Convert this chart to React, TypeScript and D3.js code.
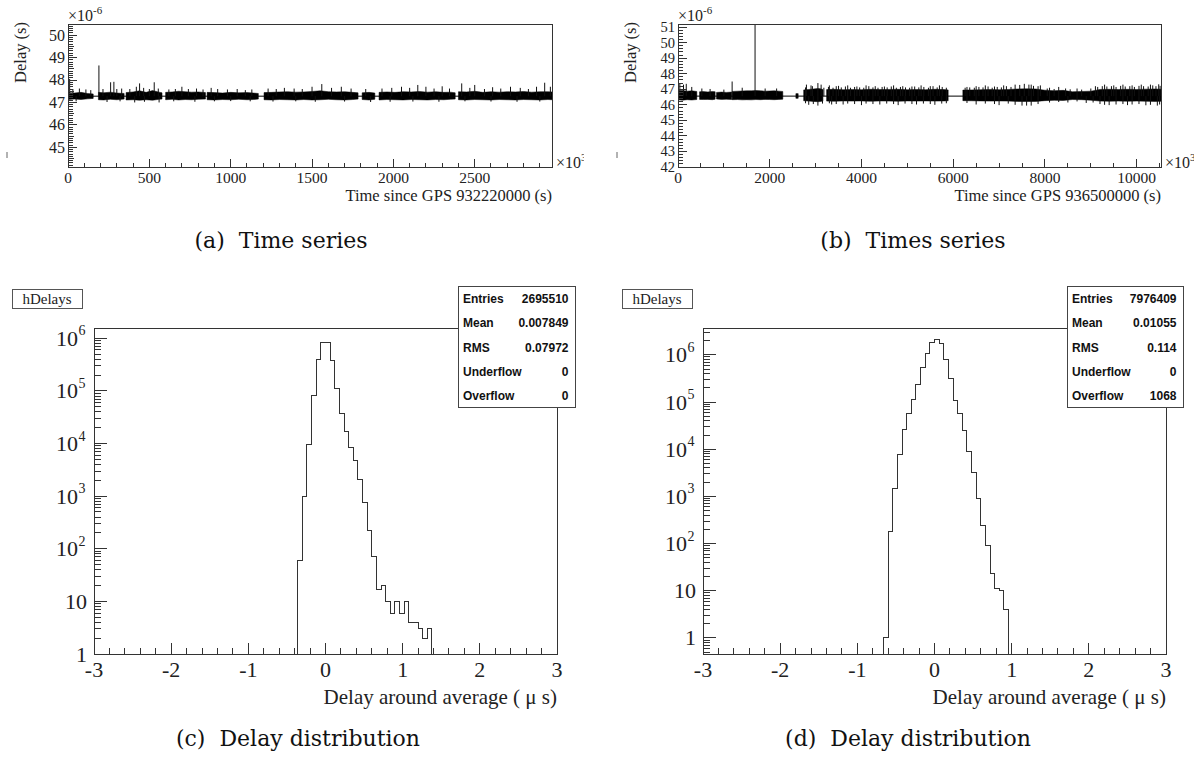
import React from "react";
import * as d3 from "d3";

const W = 1201;
const H = 763;
const SERIF = '"Liberation Serif", "Times New Roman", serif';
const CAPTION_FONT = '"DejaVu Serif", serif';
const SANS = '"Liberation Sans", Arial, sans-serif';
const INK = "#222";

// ---------------- Panel (a): time series, GPS 932220000 ----------------
const aBaseline = 47.28;
// each segment: [time, low, high] envelope of the dense noisy band
const aEnvelope: number[][][] = [
  [[0, 47.13, 47.44], [40, 47.15, 47.42], [80, 47.13, 47.45], [120, 47.16, 47.4], [155, 47.18, 47.38]],
  [[187, 47.12, 47.45], [220, 47.11, 47.43], [260, 47.14, 47.46], [300, 47.12, 47.42], [345, 47.15, 47.4]],
  [[357, 47.11, 47.44], [400, 47.12, 47.47], [440, 47.1, 47.52], [480, 47.12, 47.45], [520, 47.1, 47.53], [560, 47.14, 47.46], [578, 47.15, 47.43]],
  [[600, 47.12, 47.45], [640, 47.14, 47.47], [680, 47.11, 47.5], [720, 47.13, 47.48], [760, 47.12, 47.46], [800, 47.14, 47.47], [845, 47.15, 47.44]],
  [[855, 47.12, 47.45], [900, 47.11, 47.44], [950, 47.13, 47.42], [1000, 47.12, 47.45], [1050, 47.14, 47.43], [1100, 47.12, 47.44], [1140, 47.13, 47.42], [1170, 47.15, 47.4]],
  [[1205, 47.12, 47.44], [1250, 47.11, 47.45], [1300, 47.13, 47.47], [1350, 47.12, 47.48], [1400, 47.11, 47.46], [1450, 47.13, 47.47], [1500, 47.11, 47.49], [1550, 47.12, 47.52], [1600, 47.14, 47.48], [1650, 47.12, 47.47], [1700, 47.11, 47.48], [1750, 47.13, 47.45], [1783, 47.15, 47.43]],
  [[1808, 47.13, 47.43], [1850, 47.11, 47.45], [1886, 47.14, 47.42]],
  [[1912, 47.11, 47.45], [1960, 47.13, 47.47], [2010, 47.12, 47.45], [2060, 47.11, 47.48], [2110, 47.13, 47.47], [2160, 47.12, 47.49], [2210, 47.11, 47.46], [2260, 47.13, 47.48], [2310, 47.12, 47.45], [2350, 47.14, 47.46], [2380, 47.15, 47.43]],
  [[2400, 47.12, 47.48], [2450, 47.11, 47.47], [2500, 47.13, 47.5], [2550, 47.12, 47.45], [2600, 47.11, 47.48], [2650, 47.13, 47.46], [2700, 47.12, 47.48], [2750, 47.11, 47.47], [2800, 47.13, 47.49], [2850, 47.12, 47.46], [2900, 47.11, 47.48], [2950, 47.13, 47.48], [2975, 47.12, 47.47]],
];
const aSpikes: number[][] = [
  [10, 48.05], [30, 47.6], [70, 47.62], [110, 47.58], [140, 47.55], [190, 48.65], [215, 47.6], [262, 47.9], [282, 47.92], [300, 47.6],
  [330, 47.62], [380, 47.6], [420, 47.7], [440, 47.85], [465, 47.65], [500, 47.6], [530, 47.9], [555, 47.62], [620, 47.58], [660, 47.6],
  [700, 47.7], [740, 47.6], [790, 47.62], [830, 47.58], [880, 47.65], [920, 47.6], [980, 47.58], [1040, 47.6], [1090, 47.55], [1130, 47.58],
  [1230, 47.62], [1280, 47.6], [1330, 47.65], [1390, 47.62], [1440, 47.6], [1500, 47.7], [1560, 47.82], [1620, 47.65], [1680, 47.7], [1740, 47.62],
  [1830, 47.6], [1930, 47.62], [1990, 47.65], [2050, 47.7], [2100, 47.65], [2150, 47.78], [2200, 47.7], [2250, 47.62], [2300, 47.72], [2345, 47.62],
  [2420, 47.85], [2470, 47.65], [2500, 47.78], [2560, 47.6], [2610, 47.68], [2660, 47.62], [2720, 47.7], [2780, 47.65], [2830, 47.6], [2880, 47.7],
  [2930, 47.88], [2965, 47.7],
  [50, 47.05], [240, 47.02], [320, 47.05], [410, 47.0], [470, 47.03], [560, 47.0], [650, 47.05], [780, 47.03], [900, 47.05], [1000, 47.06],
  [1120, 47.05], [1260, 47.04], [1400, 47.05], [1520, 47.03], [1700, 47.04], [1860, 47.02], [1980, 47.03], [2120, 47.04], [2280, 47.03], [2440, 47.05],
  [2600, 47.04], [2760, 47.03], [2900, 47.04],
];
const aXTicks = [0, 500, 1000, 1500, 2000, 2500];
const aYTicks = [45, 46, 47, 48, 49, 50];

// ---------------- Panel (b): time series, GPS 936500000 ----------------
const bBaseline = 46.56;
const bEnvelope: number[][][] = [
  [[0, 46.32, 46.9], [100, 46.3, 46.92], [200, 46.33, 46.88], [300, 46.31, 46.9], [410, 46.34, 46.86]],
  [[470, 46.35, 46.84], [550, 46.34, 46.85], [650, 46.35, 46.83], [750, 46.33, 46.86], [810, 46.36, 46.84]],
  [[840, 46.37, 46.8], [950, 46.35, 46.82], [1050, 46.36, 46.8], [1170, 46.34, 46.82]],
  [[1180, 46.33, 46.86], [1300, 46.34, 46.88], [1400, 46.32, 46.89], [1500, 46.33, 46.9], [1600, 46.32, 46.9], [1700, 46.34, 46.92], [1800, 46.33, 46.9], [1900, 46.35, 46.88], [2000, 46.34, 46.89], [2100, 46.33, 46.9], [2200, 46.35, 46.88], [2285, 46.36, 46.86]],
  [[2570, 46.42, 46.72], [2620, 46.42, 46.72]],
  [[2740, 46.26, 46.96], [2850, 46.24, 46.99], [2950, 46.22, 47.02], [3050, 46.2, 47.05], [3100, 46.21, 47.04], [3160, 46.24, 46.98]],
  [[3240, 46.24, 46.98], [3400, 46.23, 47.0], [3600, 46.25, 46.97], [3800, 46.24, 46.99], [4000, 46.25, 46.97], [4200, 46.23, 47.0], [4400, 46.25, 46.98], [4600, 46.24, 46.99], [4800, 46.23, 47.0], [5000, 46.25, 46.97], [5200, 46.24, 46.99], [5400, 46.25, 46.97], [5600, 46.24, 47.0], [5800, 46.25, 46.98], [5890, 46.26, 46.96]],
  [[6210, 46.27, 46.95], [6400, 46.26, 46.96], [6600, 46.25, 46.97], [6800, 46.24, 46.99], [7000, 46.25, 46.97], [7200, 46.24, 46.99], [7400, 46.22, 47.02], [7600, 46.21, 47.03], [7800, 46.22, 47.02], [8000, 46.27, 46.94], [8200, 46.29, 46.91], [8400, 46.28, 46.93], [8600, 46.34, 46.84], [8800, 46.33, 46.86], [9000, 46.3, 46.88], [9200, 46.24, 46.99], [9400, 46.23, 47.0], [9600, 46.24, 46.99], [9800, 46.23, 47.0], [10000, 46.24, 46.99], [10200, 46.23, 47.01], [10400, 46.22, 47.02], [10530, 46.23, 47.0]],
];
const bSpikes: number[][] = [
  [40, 47.4], [120, 47.3], [180, 47.35], [300, 47.15], [520, 47.05], [700, 47.02], [1000, 46.98], [1180, 47.5], [1400, 47.1], [1680, 52.0],
  [1900, 47.05], [2150, 47.05], [2800, 47.3], [2900, 47.25], [3050, 47.4], [3120, 47.3], [3300, 47.25], [3450, 47.2], [3500, 47.22], [3700, 47.25],
  [3900, 47.18], [4100, 47.25], [4300, 47.2], [4500, 47.18], [4700, 47.25], [4900, 47.2], [5100, 47.18], [5300, 47.25], [5500, 47.2], [5700, 47.25],
  [6300, 47.15], [6500, 47.2], [6700, 47.25], [6900, 47.18], [7100, 47.25], [7350, 47.3], [7550, 47.35], [7700, 47.3], [7900, 47.25], [8100, 47.1],
  [8300, 47.15], [8700, 47.05], [9100, 47.2], [9300, 47.3], [9500, 47.25], [9700, 47.3], [9900, 47.25], [10100, 47.3], [10300, 47.3], [10480, 47.32],
  [2780, 47.12], [2930, 47.2], [3180, 47.1], [3280, 47.15], [3380, 47.1], [3560, 47.12], [3650, 47.18], [3760, 47.1], [3850, 47.15], [3960, 47.12],
  [4050, 47.1], [4160, 47.2], [4250, 47.12], [4360, 47.1], [4450, 47.15], [4560, 47.12], [4650, 47.18], [4760, 47.1], [4850, 47.15], [4960, 47.12],
  [5050, 47.1], [5160, 47.18], [5250, 47.12], [5360, 47.15], [5460, 47.1], [5560, 47.2], [5650, 47.12], [5760, 47.15], [5850, 47.1], [6260, 47.1],
  [6360, 47.12], [6460, 47.1], [6560, 47.15], [6650, 47.12], [6760, 47.18], [6850, 47.1], [6960, 47.15], [7050, 47.12], [7160, 47.2], [7260, 47.15],
  [7450, 47.28], [7650, 47.3], [7750, 47.22], [7850, 47.2], [8050, 47.05], [8200, 47.02], [8450, 47.05], [8550, 47.0], [8800, 46.98], [9000, 47.05],
  [9150, 47.15], [9250, 47.2], [9350, 47.18], [9450, 47.2], [9550, 47.15], [9650, 47.22], [9750, 47.18], [9850, 47.2], [9950, 47.15], [10050, 47.22],
  [10150, 47.2], [10250, 47.18], [10350, 47.25], [10420, 47.2], [10510, 47.22],
  [2850, 46.0], [3050, 45.95], [3350, 46.02], [3600, 46.02], [4000, 45.98], [4400, 46.02], [4800, 45.98], [5200, 46.02], [5600, 46.0], [6500, 46.02],
  [7000, 45.98], [7500, 45.95], [7700, 45.95], [8900, 46.12], [9400, 45.98], [9800, 45.98], [10200, 45.97], [10450, 45.95],
  [2780, 46.1], [2950, 46.05], [3150, 46.08], [3300, 46.1], [3450, 46.05], [3700, 46.08], [3850, 46.05], [4100, 46.08], [4250, 46.05], [4550, 46.08],
  [4700, 46.05], [4950, 46.08], [5100, 46.05], [5350, 46.08], [5500, 46.05], [5750, 46.08], [5850, 46.1], [6300, 46.12], [6700, 46.08], [6900, 46.05],
  [7200, 46.08], [7350, 46.0], [7600, 45.95], [7850, 46.05], [8100, 46.15], [8300, 46.18], [8500, 46.15], [8700, 46.22], [9050, 46.15], [9200, 46.05],
  [9300, 46.0], [9550, 46.02], [9700, 46.05], [9900, 46.02], [10050, 46.05], [10300, 46.0], [10500, 46.02],
];
const bXTicks = [0, 2000, 4000, 6000, 8000, 10000];
const bYTicks = [42, 43, 44, 45, 46, 47, 48, 49, 50, 51];

// ---------------- Panels (c), (d): delay histograms ----------------
const binWidth = 0.06;
const cFirstEdge = -0.36;
const cCounts = [
  60, 1000, 9700, 83000, 390000, 850000, 830000, 380000, 112000, 38000,
  17000, 8300, 4700, 2100, 750, 220, 70, 17, 20, 10,
  6, 10, 6, 10, 4, 4, 3, 2, 3,
];
const dFirstEdge = -0.66;
const dCounts = [
  1, 178, 1440, 7900, 25700, 58000, 115000, 240000, 550000, 1050000,
  1780000, 2100000, 1700000, 790000, 320000, 107000, 56000, 25000, 8900, 3200,
  890, 245, 91, 23, 11, 10, 4,
];
const histXTicks = [-3, -2, -1, 0, 1, 2, 3];
const cStats = [
  ["Entries", "2695510"],
  ["Mean", "0.007849"],
  ["RMS", "0.07972"],
  ["Underflow", "0"],
  ["Overflow", "0"],
];
const dStats = [
  ["Entries", "7976409"],
  ["Mean", "0.01055"],
  ["RMS", "0.114"],
  ["Underflow", "0"],
  ["Overflow", "1068"],
];

type Frame = { x0: number; x1: number; y0: number; y1: number };

function TimePanel(props: {
  id: string;
  frame: Frame;
  xDomain: [number, number];
  yDomain: [number, number];
  xTicks: number[];
  xMinorStep: number;
  yTicks: number[];
  yMinorStep: number;
  yLabelSize: number;
  envelope: number[][][];
  spikes: number[][];
  baseline: number;
  xTitle: string;
  clipRight: number;
  markX: number;
}) {
  const { id, frame, xDomain, yDomain, xTicks, xMinorStep, yTicks, yMinorStep, yLabelSize, envelope, spikes, baseline, xTitle, clipRight, markX } = props;
  const x = d3.scaleLinear().domain(xDomain).range([frame.x0, frame.x1]);
  const y = d3.scaleLinear().domain(yDomain).range([frame.y1, frame.y0]);
  const area = d3
    .area<number[]>()
    .x((d) => x(d[0]))
    .y0((d) => y(d[1]))
    .y1((d) => y(d[2]));
  const xMinor = d3.range(Math.ceil(xDomain[0] / xMinorStep) * xMinorStep, xDomain[1] + 1e-9, xMinorStep);
  const yMinor = d3
    .range(Math.ceil(yDomain[0] / yMinorStep - 1e-9), Math.floor(yDomain[1] / yMinorStep + 1e-9) + 1)
    .map((k) => k * yMinorStep);
  const isInt = (v: number) => Math.abs(v - Math.round(v)) < 1e-6;
  const isHalf = (v: number) => Math.abs(v * 2 - Math.round(v * 2)) < 1e-6;
  return (
    <g>
      <defs>
        <clipPath id={`clip-${id}`}>
          <rect x={frame.x0} y={frame.y0} width={frame.x1 - frame.x0} height={frame.y1 - frame.y0} />
        </clipPath>
        <clipPath id={`clipR-${id}`}>
          <rect x={frame.x0} y={0} width={clipRight - frame.x0} height={H} />
        </clipPath>
      </defs>
      <g clipPath={`url(#clip-${id})`}>
        <line x1={frame.x0} x2={frame.x1} y1={y(baseline)} y2={y(baseline)} stroke="#000" strokeWidth={1} />
        {envelope.map((seg, i) => (
          <path key={i} d={area(seg) || ""} fill="#000" stroke="#000" strokeWidth={0.5} />
        ))}
        {spikes.map((s, i) => (
          <line key={i} x1={x(s[0])} x2={x(s[0])} y1={y(baseline)} y2={y(s[1])} stroke="#111" strokeWidth={1} />
        ))}
      </g>
      <rect x={frame.x0} y={frame.y0} width={frame.x1 - frame.x0} height={frame.y1 - frame.y0} fill="none" stroke="#333" strokeWidth={1} shapeRendering="crispEdges" />
      {xMinor.map((v, i) => {
        const major = xTicks.some((t) => Math.abs(t - v) < 1e-6);
        return <line key={i} x1={x(v)} x2={x(v)} y1={frame.y1} y2={frame.y1 - (major ? 8 : 4)} stroke="#333" shapeRendering="crispEdges" />;
      })}
      {xTicks.map((t) => (
        <text key={t} x={x(t)} y={frame.y1 + 15.5} textAnchor="middle" fontFamily={SERIF} fontSize={15.5} fill={INK}>
          {t}
        </text>
      ))}
      {yMinor.map((v, i) => {
        const len = isInt(v) ? 9 : isHalf(v) ? 6 : 4.5;
        return <line key={i} x1={frame.x0} x2={frame.x0 + len} y1={y(v)} y2={y(v)} stroke="#333" shapeRendering="crispEdges" />;
      })}
      {yTicks.map((t) => (
        <text key={t} x={frame.x0 - 3} y={y(t) + yLabelSize * 0.34} textAnchor="end" fontFamily={SERIF} fontSize={yLabelSize} fill={INK}>
          {t}
        </text>
      ))}
      <text x={frame.x0} y={21} fontFamily={SERIF} fontSize={16} fill={INK}>
        ×10
      </text>
      <text x={frame.x0 + 25} y={14} fontFamily={SERIF} fontSize={11} fill={INK}>
        -6
      </text>
      <g clipPath={`url(#clipR-${id})`}>
        <text x={frame.x1 + 4} y={168} fontFamily={SERIF} fontSize={16} fill={INK}>
          ×10
        </text>
        <text x={frame.x1 + 29} y={161} fontFamily={SERIF} fontSize={11} fill={INK}>
          3
        </text>
      </g>
      <text x={frame.x1} y={200.5} textAnchor="end" fontFamily={SERIF} fontSize={16.5} fill={INK}>
        {xTitle}
      </text>
      <text transform={`translate(${frame.x0 - 42},22) rotate(-90)`} textAnchor="end" fontFamily={SERIF} fontSize={16.5} fill={INK}>
        Delay (s)
      </text>
      <line x1={markX} x2={markX} y1={152} y2={158} stroke="#666" strokeWidth={1} />
    </g>
  );
}

function HistPanel(props: {
  frame: Frame;
  yDomain: [number, number];
  firstEdge: number;
  counts: number[];
  stats: string[][];
  statsX: [number, number];
  titleX: number;
}) {
  const { frame, yDomain, firstEdge, counts, stats, statsX, titleX } = props;
  const x = d3.scaleLinear().domain([-3, 3]).range([frame.x0, frame.x1]);
  const y = d3.scaleLog().domain(yDomain).range([frame.y1, frame.y0]);
  let path = `M${x(firstEdge)},${frame.y1}`;
  counts.forEach((c, i) => {
    const e0 = firstEdge + i * binWidth;
    path += `V${y(c)}H${x(e0 + binWidth)}`;
  });
  path += `V${frame.y1}`;
  const xMinor = d3.range(-3, 3.0001, 0.2);
  const minorY: number[] = [];
  for (let p = -1; p <= 7; p++) {
    for (let k = 1; k <= 9; k++) {
      const v = k * Math.pow(10, p);
      if (v >= yDomain[0] && v <= yDomain[1]) minorY.push(v);
    }
  }
  const decades = d3.range(0, 7).map((p) => Math.pow(10, p));
  const fsTick = 22;
  const rowH = 24.2;
  const statsTop = 286.7;
  return (
    <g>
      <path d={path} fill="none" stroke="#333" strokeWidth={1} shapeRendering="crispEdges" />
      <rect x={frame.x0} y={frame.y0} width={frame.x1 - frame.x0} height={frame.y1 - frame.y0} fill="none" stroke="#333" strokeWidth={1} shapeRendering="crispEdges" />
      {xMinor.map((v, i) => {
        const major = Math.abs(v - Math.round(v)) < 1e-6;
        return <line key={i} x1={x(v)} x2={x(v)} y1={frame.y1} y2={frame.y1 - (major ? 11 : 6)} stroke="#333" shapeRendering="crispEdges" />;
      })}
      {histXTicks.map((t) => (
        <text key={t} x={x(t)} y={frame.y1 + 23} textAnchor="middle" fontFamily={SERIF} fontSize={fsTick} fill={INK}>
          {t}
        </text>
      ))}
      {minorY.map((v, i) => {
        const major = Math.abs(Math.log10(v) - Math.round(Math.log10(v))) < 1e-6;
        return <line key={i} x1={frame.x0} x2={frame.x0 + (major ? 13 : 7)} y1={y(v)} y2={y(v)} stroke="#333" shapeRendering="crispEdges" />;
      })}
      {decades.map((v, i) =>
        i < 2 ? (
          <text key={i} x={frame.x0 - 7} y={y(v) + 7.5} textAnchor="end" fontFamily={SERIF} fontSize={fsTick} fill={INK}>
            {v}
          </text>
        ) : (
          <g key={i}>
            <text x={frame.x0 - 16} y={y(v) + 7.5} textAnchor="end" fontFamily={SERIF} fontSize={fsTick} fill={INK}>
              10
            </text>
            <text x={frame.x0 - 15.5} y={y(v) - 3} fontFamily={SERIF} fontSize={14} fill={INK}>
              {i}
            </text>
          </g>
        )
      )}
      <text x={frame.x1} y={704} textAnchor="end" fontFamily={SERIF} fontSize={21} fill={INK}>
        Delay around average ( μ s)
      </text>
      <rect x={titleX + 1} y={290} width={70} height={19} fill="#999" />
      <rect x={titleX} y={289} width={70} height={19} fill="#fff" stroke="#555" strokeWidth={1} shapeRendering="crispEdges" />
      <text x={titleX + 35} y={303.5} textAnchor="middle" fontFamily={SERIF} fontSize={15} fill={INK}>
        hDelays
      </text>
      <rect x={statsX[0]} y={statsTop} width={statsX[1] - statsX[0]} height={rowH * 5} fill="#fff" stroke="#444" strokeWidth={1} shapeRendering="crispEdges" />
      {stats.map((s, i) => (
        <g key={i}>
          <text x={statsX[0] + 5} y={statsTop + rowH * (i + 0.5) + 4.3} fontFamily={SANS} fontWeight="bold" fontSize={12} fill="#111">
            {s[0]}
          </text>
          <text x={statsX[1] - 6.5} y={statsTop + rowH * (i + 0.5) + 4.3} textAnchor="end" fontFamily={SANS} fontWeight="bold" fontSize={12} fill="#111">
            {s[1]}
          </text>
        </g>
      ))}
    </g>
  );
}

function Caption(props: { cx: number; y: number; text: string }) {
  return (
    <text x={props.cx} y={props.y} textAnchor="middle" xmlSpace="preserve" fontFamily={CAPTION_FONT} fontSize={22} fill="#111" style={{ whiteSpace: "pre" }}>
      {props.text}
    </text>
  );
}

export default function App() {
  return (
    <svg width={W} height={H} style={{ position: "absolute", left: 0, top: 0, background: "#fff" }} xmlns="http://www.w3.org/2000/svg">
      <rect x={0} y={0} width={W} height={H} fill="#fff" />
      <TimePanel
        id="a"
        frame={{ x0: 68, x1: 552, y0: 24, y1: 167 }}
        xDomain={[0, 2975]}
        yDomain={[44.12, 50.5]}
        xTicks={aXTicks}
        xMinorStep={100}
        yTicks={aYTicks}
        yMinorStep={0.1}
        yLabelSize={16}
        envelope={aEnvelope}
        spikes={aSpikes}
        baseline={aBaseline}
        xTitle="Time since GPS 932220000 (s)"
        clipRight={584}
        markX={7}
      />
      <TimePanel
        id="b"
        frame={{ x0: 678, x1: 1161, y0: 24, y1: 167 }}
        xDomain={[0, 10530]}
        yDomain={[42, 51.2]}
        xTicks={bXTicks}
        xMinorStep={500}
        yTicks={bYTicks}
        yMinorStep={0.2}
        yLabelSize={14.5}
        envelope={bEnvelope}
        spikes={bSpikes}
        baseline={bBaseline}
        xTitle="Time since GPS 936500000 (s)"
        clipRight={1194}
        markX={617}
      />
      <HistPanel
        frame={{ x0: 94, x1: 557, y0: 328, y1: 654 }}
        yDomain={[1, 1.57e6]}
        firstEdge={cFirstEdge}
        counts={cCounts}
        stats={cStats}
        statsX={[458, 575]}
        titleX={12}
      />
      <HistPanel
        frame={{ x0: 703, x1: 1166, y0: 328, y1: 654 }}
        yDomain={[0.458, 3.7e6]}
        firstEdge={dFirstEdge}
        counts={dCounts}
        stats={dStats}
        statsX={[1067, 1183]}
        titleX={622}
      />
      <Caption cx={281} y={248} text="(a)  Time series" />
      <Caption cx={913} y={248} text="(b)  Times series" />
      <Caption cx={298} y={746} text="(c)  Delay distribution" />
      <Caption cx={908} y={746} text="(d)  Delay distribution" />
    </svg>
  );
}
